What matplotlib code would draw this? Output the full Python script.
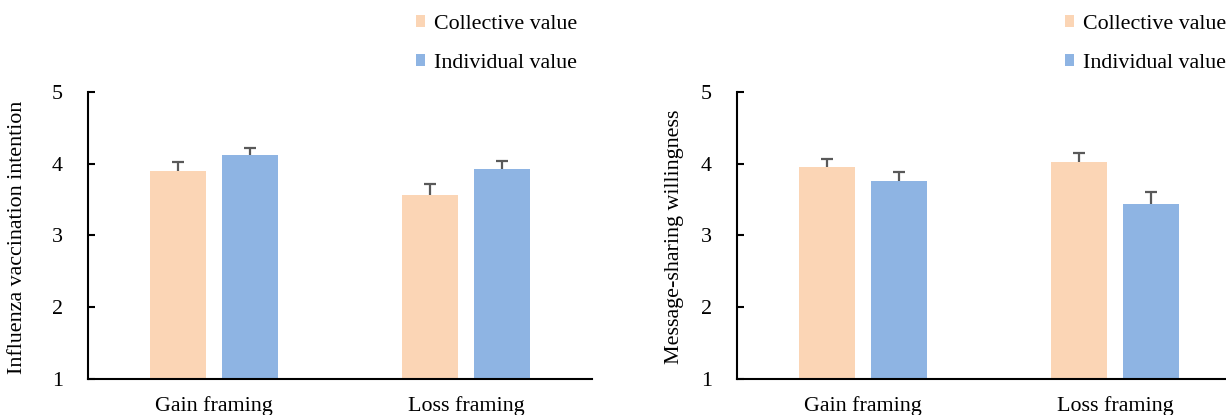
import matplotlib
matplotlib.use("Agg")
import matplotlib.pyplot as plt
from matplotlib.patches import Patch
import numpy as np

categories = ["Gain framing", "Loss framing"]
series = ["Collective value", "Individual value"]
vacc_collective = [3.90, 3.57]
vacc_individual = [4.12, 3.93]
vacc_collective_err = [0.13, 0.15]
vacc_individual_err = [0.10, 0.11]
share_collective = [3.96, 4.03]
share_individual = [3.76, 3.44]
share_collective_err = [0.10, 0.12]
share_individual_err = [0.12, 0.16]
yticks = [1, 2, 3, 4, 5]

colors = ["#FBD5B5", "#8EB4E3"]
plt.rcParams["font.family"] = ["Liberation Serif", "DejaVu Serif"]
FS = 15.8
W, H = 1226, 415
fig = plt.figure(figsize=(W / 100, H / 100), dpi=100)

def panel(left_px, data, errs, ylabel, ylabel_x, legend_x):
    ax = fig.add_axes([left_px / W, (H - 379) / H, 504 / W, 287 / H])
    x = np.arange(len(categories))
    bw = 0.222
    off = 0.143
    for i, (vals, e) in enumerate(zip(data, errs)):
        pos = x + (-off if i == 0 else off)
        ax.bar(pos, vals, width=bw, color=colors[i], zorder=2)
        cont = ax.errorbar(pos, vals, yerr=[np.zeros(len(e)), e], fmt="none",
                           ecolor="#595959", elinewidth=1.6, capsize=4,
                           capthick=1.6, zorder=3)
        caps = cont.lines[1]
        if len(caps) == 2:
            caps[0].set_visible(False)
    ax.set_xlim(-0.5, 1.5)
    ax.set_ylim(1, 5)
    ax.set_yticks(yticks)
    ax.set_xticks(x)
    ax.set_xticklabels(categories, fontsize=FS)
    ax.tick_params(axis="x", length=0, pad=12)
    ax.tick_params(axis="y", direction="in", length=5, width=1.5, labelsize=FS, pad=18)
    for s in ["top", "right"]:
        ax.spines[s].set_visible(False)
    for s in ["left", "bottom"]:
        ax.spines[s].set_linewidth(1.5)
    fig.text(ylabel_x / W, (H - 237) / H, ylabel, rotation=90, ha="center",
             va="center", fontsize=FS)
    handles = [Patch(facecolor=c, edgecolor="none") for c in colors]
    fig.legend(handles, series, loc="upper left",
               bbox_to_anchor=(legend_x / W, 1 - 15 / H), frameon=False,
               fontsize=FS, handlelength=0.42, handleheight=0.42,
               handletextpad=0.4, labelspacing=0.9, borderaxespad=0, borderpad=0)
    return ax

panel(88, [vacc_collective, vacc_individual], [vacc_collective_err, vacc_individual_err],
      "Influenza vaccination intention", 18, 416)
panel(737, [share_collective, share_individual], [share_collective_err, share_individual_err],
      "Message-sharing willingness", 675, 1065)

fig.savefig("out.png", dpi=100)
